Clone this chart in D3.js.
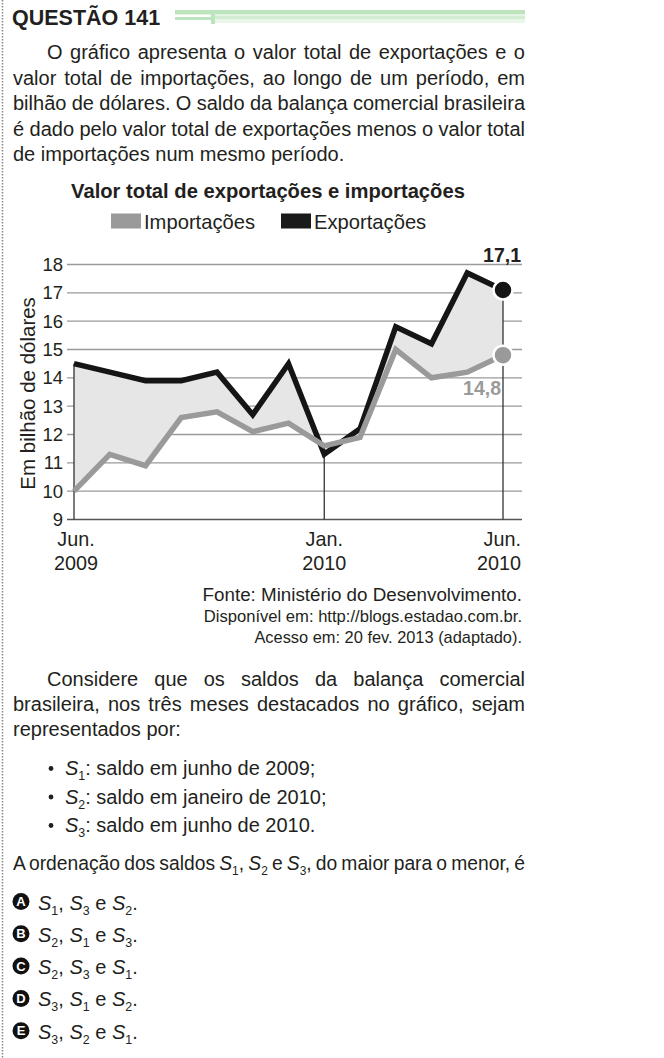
<!DOCTYPE html>
<html>
<head>
<meta charset="utf-8">
<script src="https://cdn.jsdelivr.net/npm/d3@7"></script>
<style>
html, body { margin: 0; padding: 0; background: #fff; }
svg { display: block; font-family: "Liberation Sans", Arial, Helvetica, sans-serif; }
</style>
</head>
<body>
<div id="content"></div>
<script>
// Chart data (bilhão de dólares)
var meses = ["Jun. 2009", "Jul. 2009", "Ago. 2009", "Set. 2009", "Out. 2009", "Nov. 2009", "Dez. 2009",
             "Jan. 2010", "Fev. 2010", "Mar. 2010", "Abr. 2010", "Mai. 2010", "Jun. 2010"];
var exportacoes = [14.5, 14.2, 13.9, 13.9, 14.2, 12.7, 14.5, 11.3, 12.2, 15.8, 15.2, 17.7, 17.1];
var importacoes = [10.0, 11.3, 10.9, 12.6, 12.8, 12.1, 12.4, 11.6, 11.9, 15.0, 14.0, 14.2, 14.8];
var destaques = [0, 7, 12];
var rotulosX = [["Jun.", "2009"], ["Jan.", "2010"], ["Jun.", "2010"]];
var yTicks = [9, 10, 11, 12, 13, 14, 15, 16, 17, 18];
var rotuloExp = "17,1";
var rotuloImp = "14,8";
var legenda = ["Importações", "Exportações"];

// Question text
var titulo = "QUESTÃO 141";
var paragrafo1 = [
    "O gráfico apresenta o valor total de exportações e o",
    "valor total de importações, ao longo de um período, em",
    "bilhão de dólares. O saldo da balança comercial brasileira",
    "é dado pelo valor total de exportações menos o valor total",
    "de importações num mesmo período."
];
var tituloGrafico = "Valor total de exportações e importações";
var fonte = [
    "Fonte: Ministério do Desenvolvimento.",
    "Disponível em: http://blogs.estadao.com.br.",
    "Acesso em: 20 fev. 2013 (adaptado)."
];
var paragrafo2 = [
    "Considere que os saldos da balança comercial",
    "brasileira, nos três meses destacados no gráfico, sejam",
    "representados por:"
];
var itens = [
    "S_1: saldo em junho de 2009;",
    "S_2: saldo em janeiro de 2010;",
    "S_3: saldo em junho de 2010."
];
var enunciado = "A ordenação dos saldos S_1, S_2 e S_3, do maior para o menor, é";
var alternativas = ["A", "B", "C", "D", "E"];
var ordens = [[1, 3, 2], [2, 1, 3], [2, 3, 1], [3, 1, 2], [3, 2, 1]];

var svgWidth = 664;
var svgHeight = 1058;
var textColor = "#231f20";
var fontBody = 20;

var svg = d3.select("#content").append("svg")
    .attr("width", svgWidth)
    .attr("height", svgHeight);

// dotted left border
svg.append("line")
    .attr("x1", 2.5).attr("x2", 2.5).attr("y1", 0).attr("y2", svgHeight)
    .attr("stroke", "#8a8a8a").attr("stroke-width", 1.5)
    .attr("stroke-dasharray", "1.5,1.5");

// header
svg.append("text")
    .attr("x", 12).attr("y", 25)
    .attr("font-size", 21.5).attr("font-weight", "bold")
    .attr("fill", textColor)
    .text(titulo);

var faixa = svg.append("g");
faixa.append("rect").attr("x", 175).attr("y", 10).attr("width", 350).attr("height", 4.5).attr("fill", "#bde5bd");
faixa.append("rect").attr("x", 175).attr("y", 17).attr("width", 37).attr("height", 3).attr("fill", "#bde5bd");
faixa.append("rect").attr("x", 211).attr("y", 10).attr("width", 4).attr("height", 14).attr("fill", "#bde5bd");
faixa.append("rect").attr("x", 215).attr("y", 15.5).attr("width", 310).attr("height", 3.5).attr("fill", "#d2edd2");
faixa.append("rect").attr("x", 215).attr("y", 19).attr("width", 310).attr("height", 4).attr("fill", "#e9f6e9");

// draws a line of text; "S_n" becomes an italic S with subscript n.
// opts.width justifies the line by widening the word spacing
function richLine(x, y, str, size, opts) {
    opts = opts || {};
    var t = svg.append("text")
        .attr("x", x).attr("y", y)
        .attr("font-size", size)
        .attr("fill", textColor);
    if (opts.anchor) t.attr("text-anchor", opts.anchor);
    if (opts.weight) t.attr("font-weight", opts.weight);
    var parts = str.split(/S_(\d)/);
    var lowered = false;
    parts.forEach(function (p, i) {
        if (i % 2 == 0) {
            if (p == "") return;
            var ts = t.append("tspan").text(p);
            if (lowered) { ts.attr("dy", -5); lowered = false; }
        } else {
            var s = t.append("tspan").attr("font-style", "italic").text("S");
            if (lowered) { s.attr("dy", -5); }
            t.append("tspan").attr("font-size", size * 0.62).attr("dy", 5).text(p);
            lowered = true;
        }
    });
    if (opts.width) {
        var natural = t.node().getComputedTextLength();
        var spaces = str.split(" ").length - 1;
        if (spaces > 0) {
            t.attr("word-spacing", (opts.width - natural) / spaces);
        }
    }
    return t;
}

// paragraph 1 (justified)
var p1Base = [59, 84.5, 110, 135.5, 161];
paragrafo1.forEach(function (line, i) {
    var x = i == 0 ? 47 : 13;
    var last = i == paragrafo1.length - 1;
    richLine(x, p1Base[i], line, fontBody, last ? {} : { width: 525 - x });
});

// ---------- chart ----------
var xScale = d3.scaleLinear()
    .domain([0, meses.length - 1])
    .range([74, 503]);
var yScale = d3.scaleLinear()
    .domain([9, 18])
    .range([519.5, 264.5]);

var chart = svg.append("g");

chart.append("text")
    .attr("x", 268).attr("y", 198)
    .attr("text-anchor", "middle")
    .attr("font-size", 20.2).attr("font-weight", "bold")
    .attr("fill", textColor)
    .text(tituloGrafico);

// legend
var legendItems = [
    { label: legenda[0], color: "#9a9a9a", x: 111 },
    { label: legenda[1], color: "#1a1a1a", x: 281 }
];
legendItems.forEach(function (d) {
    chart.append("rect")
        .attr("x", d.x).attr("y", 213.5)
        .attr("width", 30).attr("height", 15)
        .attr("fill", d.color);
    chart.append("text")
        .attr("x", d.x + 33).attr("y", 229)
        .attr("font-size", 20.2)
        .attr("fill", textColor)
        .text(d.label);
});

// gridlines + tick labels
chart.selectAll(".grid")
    .data(yTicks)
    .enter().append("line")
    .attr("class", "grid")
    .attr("x1", 67).attr("x2", 522)
    .attr("y1", function (d) { return yScale(d); })
    .attr("y2", function (d) { return yScale(d); })
    .attr("stroke", function (d) { return d == 9 ? "#555" : "#9a9a9a"; })
    .attr("stroke-width", 1.4);

chart.selectAll(".tick-label")
    .data(yTicks)
    .enter().append("text")
    .attr("class", "tick-label")
    .attr("x", 63)
    .attr("y", function (d) { return yScale(d) + 6.5; })
    .attr("text-anchor", "end")
    .attr("font-size", 18.5)
    .attr("fill", textColor)
    .text(function (d) { return d; });

chart.append("text")
    .attr("transform", "translate(35," + yScale(13.45) + ") rotate(-90)")
    .attr("text-anchor", "middle")
    .attr("font-size", 20.5)
    .attr("fill", textColor)
    .text("Em bilhão de dólares");

// shaded area between the series
var area = d3.area()
    .x(function (d, i) { return xScale(i); })
    .y0(function (d, i) { return yScale(importacoes[i]); })
    .y1(function (d, i) { return yScale(exportacoes[i]); });
chart.append("path")
    .datum(exportacoes)
    .attr("d", area)
    .attr("fill", "#e6e6e6");

// vertical marker lines for the highlighted months
chart.selectAll(".marker")
    .data(destaques)
    .enter().append("line")
    .attr("class", "marker")
    .attr("x1", function (d) { return xScale(d); })
    .attr("x2", function (d) { return xScale(d); })
    .attr("y1", function (d) { return yScale(exportacoes[d]); })
    .attr("y2", yScale(9))
    .attr("stroke", "#333")
    .attr("stroke-width", 1.3);

var line = d3.line()
    .x(function (d, i) { return xScale(i); })
    .y(function (d) { return yScale(d); });

chart.append("path")
    .datum(exportacoes)
    .attr("d", line)
    .attr("fill", "none")
    .attr("stroke", "#151515")
    .attr("stroke-width", 5.5);

chart.append("path")
    .datum(importacoes)
    .attr("d", line)
    .attr("fill", "none")
    .attr("stroke", "#9a9a9a")
    .attr("stroke-width", 5.5);

var ultimo = meses.length - 1;
chart.append("circle")
    .attr("cx", xScale(ultimo)).attr("cy", yScale(exportacoes[ultimo]))
    .attr("r", 9.5)
    .attr("fill", "#151515").attr("stroke", "#fff").attr("stroke-width", 2.5);
chart.append("circle")
    .attr("cx", xScale(ultimo)).attr("cy", yScale(importacoes[ultimo]))
    .attr("r", 9.5)
    .attr("fill", "#9a9a9a").attr("stroke", "#fff").attr("stroke-width", 2.5);

chart.append("text")
    .attr("x", 521).attr("y", 262)
    .attr("text-anchor", "end")
    .attr("font-size", 19.5).attr("font-weight", "bold")
    .attr("fill", textColor)
    .text(rotuloExp);
chart.append("text")
    .attr("x", xScale(ultimo) - 2).attr("y", 395)
    .attr("text-anchor", "end")
    .attr("font-size", 19.5).attr("font-weight", "bold")
    .attr("fill", "#9a9a9a")
    .text(rotuloImp);

// x labels
destaques.forEach(function (d, i) {
    var anchor = "middle";
    var x = xScale(d);
    if (i == 0) x += 2;
    if (i == destaques.length - 1) { anchor = "end"; x += 18; }
    rotulosX[i].forEach(function (s, j) {
        chart.append("text")
            .attr("x", x).attr("y", 546 + j * 24)
            .attr("text-anchor", anchor)
            .attr("font-size", 19.8)
            .attr("fill", textColor)
            .text(s);
    });
});

// source
var fonteBase = [601, 622, 643];
var fonteSize = [18.8, 16.6, 16.4];
fonte.forEach(function (s, i) {
    richLine(522, fonteBase[i], s, fonteSize[i], { anchor: "end" });
});

// paragraph 2
var p2Base = [686, 711, 736];
paragrafo2.forEach(function (line, i) {
    var x = i == 0 ? 47 : 13;
    var last = i == paragrafo2.length - 1;
    richLine(x, p2Base[i], line, fontBody, last ? {} : { width: 525 - x });
});

// bullet items
itens.forEach(function (s, i) {
    var y = 775 + i * 28.5;
    svg.append("circle")
        .attr("cx", 51).attr("cy", y - 6.5).attr("r", 2.4)
        .attr("fill", textColor);
    richLine(65, y, s, fontBody);
});

richLine(13, 870, enunciado, 19.3, { width: 512 });

// answer options
alternativas.forEach(function (letra, i) {
    var cy = 901.5 + i * 32.3;
    svg.append("circle")
        .attr("cx", 21).attr("cy", cy).attr("r", 8.5)
        .attr("fill", "#111");
    svg.append("text")
        .attr("x", 21).attr("y", cy + 4.6)
        .attr("text-anchor", "middle")
        .attr("font-size", 13).attr("font-weight", "bold")
        .attr("fill", "#fff")
        .text(letra);
    var o = ordens[i];
    richLine(38, cy + 8, "S_" + o[0] + ", S_" + o[1] + " e S_" + o[2] + ".", fontBody);
});
</script>
</body>
</html>
